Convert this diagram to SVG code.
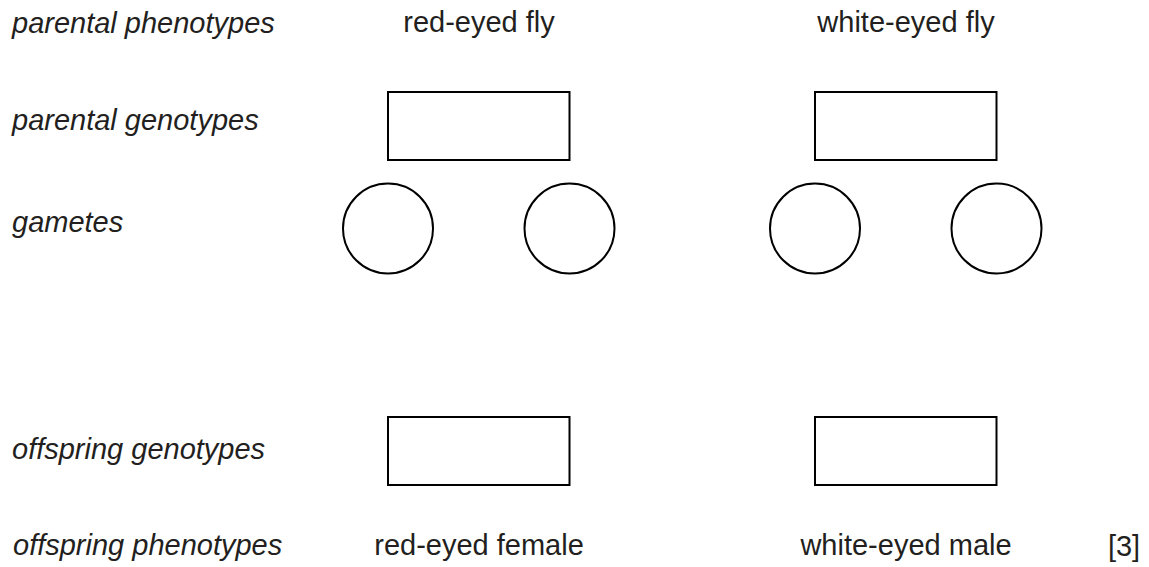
<svg xmlns="http://www.w3.org/2000/svg" width="1149" height="567" viewBox="0 0 1149 567">
<style>
.lbl{font-family:"Liberation Sans",Arial,sans-serif;font-size:29px;font-style:italic;fill:#231f20}
.txt{font-family:"Liberation Sans",Arial,sans-serif;font-size:29px;fill:#231f20;text-anchor:middle}
.box{fill:#fff;stroke:#000;stroke-width:2}
</style>
<rect width="1149" height="567" fill="#fff"/>
<g id="labels">
<text class="lbl" x="12" y="33">parental phenotypes</text>
<text class="lbl" x="12" y="130">parental genotypes</text>
<text class="lbl" x="12" y="232">gametes</text>
<text class="lbl" x="12" y="459">offspring genotypes</text>
<text class="lbl" x="13" y="555">offspring phenotypes</text>
</g>
<g id="parent-red">
<text class="txt" x="479" y="32">red-eyed fly</text>
<rect class="box" x="388" y="92" width="181.5" height="68"/>
</g>
<g id="parent-white">
<text class="txt" x="906" y="32">white-eyed fly</text>
<rect class="box" x="815" y="92" width="181.5" height="68"/>
</g>
<g id="gametes-red">
<circle class="box" cx="388" cy="228.5" r="45"/>
<circle class="box" cx="569.5" cy="228.5" r="45"/>
</g>
<g id="gametes-white">
<circle class="box" cx="815" cy="228.5" r="45"/>
<circle class="box" cx="996.5" cy="228.5" r="45"/>
</g>
<g id="offspring-female">
<rect class="box" x="388" y="417" width="181.5" height="68"/>
<text class="txt" x="479" y="555">red-eyed female</text>
</g>
<g id="offspring-male">
<rect class="box" x="815" y="417" width="181.5" height="68"/>
<text class="txt" x="906" y="555">white-eyed male</text>
</g>
<g id="marks">
<text class="txt" x="1124" y="556">[3]</text>
</g>
<g id="connectors"></g>
</svg>
